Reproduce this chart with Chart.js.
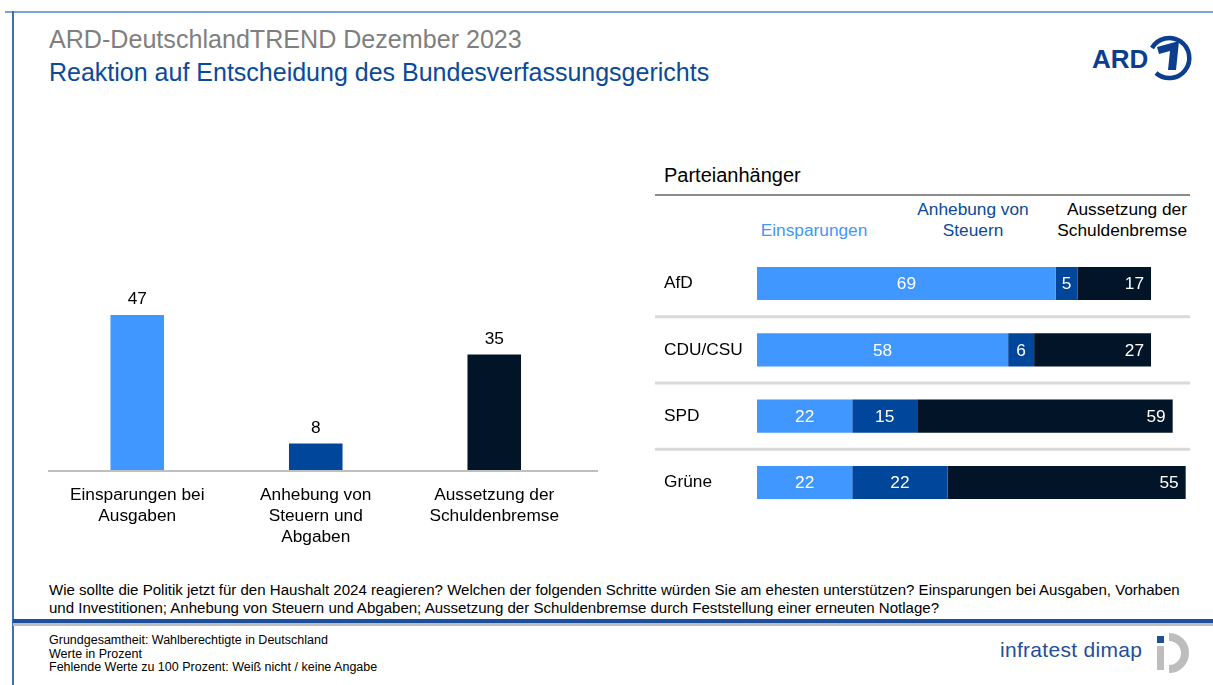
<!DOCTYPE html>
<html lang="de">
<head>
<meta charset="utf-8">
<title>ARD-DeutschlandTREND Dezember 2023</title>
<script src="https://cdn.jsdelivr.net/npm/chart.js@4.4.1/dist/chart.umd.min.js"></script>
<style>
  html, body { margin: 0; padding: 0; background: #fff; }
  body { width: 1213px; height: 685px; position: relative; overflow: hidden;
         font-family: "Liberation Sans", Arial, sans-serif; }
  .abs { position: absolute; white-space: nowrap; }
  #frameTop { left: 5px; top: 11px; width: 1208px; height: 2px; background: #7fa3d6; }
  #frameLeft { left: 12px; top: 11px; width: 2px; height: 674px; background: #3f6fb8; }
  #sepBlue { left: 13px; top: 619px; width: 1200px; height: 4px; background: #1c4f9c; }
  #sepGray { left: 13px; top: 623px; width: 1200px; height: 3px; background: #bdbdbd; }
  #title { left: 49px; top: 25px; font-size: 25.1px; color: #7f7f7f; }
  #subtitle { left: 49px; top: 58px; font-size: 25px; color: #0a4a9b; }
  #partyHead { left: 664px; top: 164px; font-size: 20px; color: #000; }
  #headLine { left: 655px; top: 194px; width: 535px; height: 2px; background: #8c8c8c; }
  .colHead { font-size: 17.3px; line-height: 21px; }
  #h1 { left: 714px; width: 200px; top: 220px; text-align: center; color: #3f97ff; }
  #h2 { left: 887px; width: 172px; top: 199px; text-align: center; color: #0a4a9b; }
  #h3 { left: 987px; width: 200px; top: 199px; text-align: right; color: #000; }
  #question { left: 49px; top: 581px; font-size: 15.05px; line-height: 17.5px; color: #000; }
  #footer { left: 49px; top: 634px; font-size: 12.5px; line-height: 13.5px; color: #000; }
  #infra { left: 1000px; top: 638px; font-size: 21px; color: #1f4e9a; letter-spacing: 0.3px; }
  #leftWrap { left: 40px; top: 280px; width: 580px; height: 280px; }
  #rightWrap { left: 650px; top: 240px; width: 560px; height: 286px; }
</style>
</head>
<body>
<div class="abs" id="frameTop"></div>
<div class="abs" id="frameLeft"></div>
<div class="abs" id="title">ARD-DeutschlandTREND Dezember 2023</div>
<div class="abs" id="subtitle">Reaktion auf Entscheidung des Bundesverfassungsgerichts</div>

<svg class="abs" style="left:1088px; top:32px;" width="110" height="52" viewBox="0 0 110 52">
  <text x="4" y="36" font-family="Liberation Sans, Arial, sans-serif" font-weight="bold" font-size="26" fill="#0b3e8f">ARD</text>
  <path d="M 68 41 A 20 20 0 1 0 64 16" fill="none" stroke="#0b3e8f" stroke-width="4.5"/>
  <path d="M 69 15 L 91 9 L 88 38 L 80 38 L 82 19 L 71 22 Z" fill="#0b3e8f"/>
</svg>

<div class="abs" id="partyHead">Parteianhänger</div>
<div class="abs" id="headLine"></div>
<div class="abs colHead" id="h1">Einsparungen</div>
<div class="abs colHead" id="h2">Anhebung von<br>Steuern</div>
<div class="abs colHead" id="h3">Aussetzung der<br>Schuldenbremse</div>

<div class="abs" id="leftWrap"><canvas id="overall"></canvas></div>
<div class="abs" id="rightWrap"><canvas id="parties"></canvas></div>

<div class="abs" id="question">Wie sollte die Politik jetzt für den Haushalt 2024 reagieren? Welchen der folgenden Schritte würden Sie am ehesten unterstützen? Einsparungen bei Ausgaben, Vorhaben<br>und Investitionen; Anhebung von Steuern und Abgaben; Aussetzung der Schuldenbremse durch Feststellung einer erneuten Notlage?</div>
<div class="abs" id="sepBlue"></div>
<div class="abs" id="sepGray"></div>
<div class="abs" id="footer">Grundgesamtheit: Wahlberechtigte in Deutschland<br>Werte in Prozent<br>Fehlende Werte zu 100 Prozent: Weiß nicht / keine Angabe</div>
<div class="abs" id="infra">infratest dimap</div>
<svg class="abs" style="left:1152px; top:633px;" width="42" height="40" viewBox="0 0 42 40">
  <rect x="5" y="3" width="7" height="7" fill="#1f4e9a"/>
  <rect x="5" y="13" width="7" height="24" fill="#bdbdbd"/>
  <path d="M 17 4 A 16 16 0 0 1 17 36" fill="none" stroke="#bdbdbd" stroke-width="8"/>
</svg>

<script>
// Gesamt
const overallLabels = [
  ['Einsparungen bei', 'Ausgaben'],
  ['Anhebung von', 'Steuern und', 'Abgaben'],
  ['Aussetzung der', 'Schuldenbremse']
];
const overallValues = [47, 8, 35];

// Parteianhänger
const parties = ['AfD', 'CDU/CSU', 'SPD', 'Grüne'];
const einsparungen = [69, 58, 22, 22];
const anhebung = [5, 6, 15, 22];
const aussetzung = [17, 27, 59, 55];

const LIGHT = '#3f97ff';
const MID = '#00469b';
const DARK = '#011428';
const FONT = 'Liberation Sans, Arial, sans-serif';
const LABEL_SIZE = 17.3;

Chart.defaults.font.family = FONT;
Chart.defaults.animation = false;

// value labels above the vertical bars + extended baseline
const overallPlugin = {
  id: 'overallDeco',
  afterDatasetsDraw(chart) {
    const { ctx, chartArea } = chart;
    ctx.save();
    ctx.strokeStyle = '#bfbfbf';
    ctx.lineWidth = 2;
    ctx.beginPath();
    ctx.moveTo(chartArea.left, chartArea.bottom + 1);
    ctx.lineTo(chartArea.left + 550, chartArea.bottom + 1);
    ctx.stroke();
    ctx.fillStyle = '#000';
    ctx.font = LABEL_SIZE + 'px ' + FONT;
    ctx.textAlign = 'center';
    ctx.textBaseline = 'bottom';
    chart.getDatasetMeta(0).data.forEach((bar, i) => {
      ctx.fillText(String(overallValues[i]), bar.x, bar.y - 7);
    });
    ctx.restore();
  }
};

new Chart(document.getElementById('overall'), {
  type: 'bar',
  data: {
    labels: overallLabels,
    datasets: [{
      data: overallValues,
      backgroundColor: [LIGHT, MID, DARK],
      barPercentage: 0.3,
      categoryPercentage: 1.0
    }]
  },
  options: {
    responsive: true,
    maintainAspectRatio: false,
    layout: { padding: { top: 25, left: 8, right: 36.5, bottom: 0 } },
    plugins: { legend: { display: false }, tooltip: { enabled: false } },
    scales: {
      x: {
        grid: { display: false, drawTicks: false },
        border: { display: false },
        ticks: {
          color: '#000',
          font: { size: LABEL_SIZE, lineHeight: 1.21 },
          padding: 15,
          maxRotation: 0,
          autoSkip: false
        },
        afterFit(scale) { scale.height = 90; }
      },
      y: { display: false, min: 0, max: 50 }
    }
  },
  plugins: [overallPlugin]
});

// separators between party rows + labels inside segments
const partyPlugin = {
  id: 'partyDeco',
  beforeDatasetsDraw(chart) {
    const { ctx } = chart;
    const yScale = chart.scales.y;
    ctx.save();
    ctx.strokeStyle = '#d9d9d9';
    ctx.lineWidth = 3;
    for (let i = 0; i < parties.length - 1; i++) {
      const y = (yScale.getPixelForValue(i) + yScale.getPixelForValue(i + 1)) / 2;
      ctx.beginPath();
      ctx.moveTo(5, y);
      ctx.lineTo(540, y);
      ctx.stroke();
    }
    ctx.restore();
  },
  afterDatasetsDraw(chart) {
    const { ctx } = chart;
    ctx.save();
    ctx.fillStyle = '#fff';
    ctx.font = LABEL_SIZE + 'px ' + FONT;
    ctx.textBaseline = 'middle';
    chart.data.datasets.forEach((ds, di) => {
      chart.getDatasetMeta(di).data.forEach((bar, i) => {
        const v = ds.data[i];
        if (di === 2) {
          ctx.textAlign = 'right';
          ctx.fillText(String(v), bar.x - 7, bar.y + 1);
        } else {
          ctx.textAlign = 'center';
          ctx.fillText(String(v), (bar.x + bar.base) / 2, bar.y + 1);
        }
      });
    });
    ctx.restore();
  }
};

new Chart(document.getElementById('parties'), {
  type: 'bar',
  data: {
    labels: parties,
    datasets: [
      { label: 'Einsparungen', data: einsparungen, backgroundColor: LIGHT },
      { label: 'Anhebung von Steuern', data: anhebung, backgroundColor: MID },
      { label: 'Aussetzung der Schuldenbremse', data: aussetzung, backgroundColor: DARK }
    ]
  },
  options: {
    indexAxis: 'y',
    responsive: true,
    maintainAspectRatio: false,
    datasets: { bar: { barPercentage: 0.5, categoryPercentage: 1.0 } },
    layout: { padding: { top: 0, left: 14, right: 20, bottom: 0 } },
    plugins: { legend: { display: false }, tooltip: { enabled: false } },
    scales: {
      x: { display: false, stacked: true, min: 0, max: 100 },
      y: {
        stacked: true,
        grid: { display: false, drawTicks: false },
        border: { display: false },
        ticks: { color: '#000', font: { size: LABEL_SIZE }, crossAlign: 'far', padding: 0 },
        afterFit(scale) { scale.width = 93; }
      }
    }
  },
  plugins: [partyPlugin]
});
</script>
</body>
</html>
